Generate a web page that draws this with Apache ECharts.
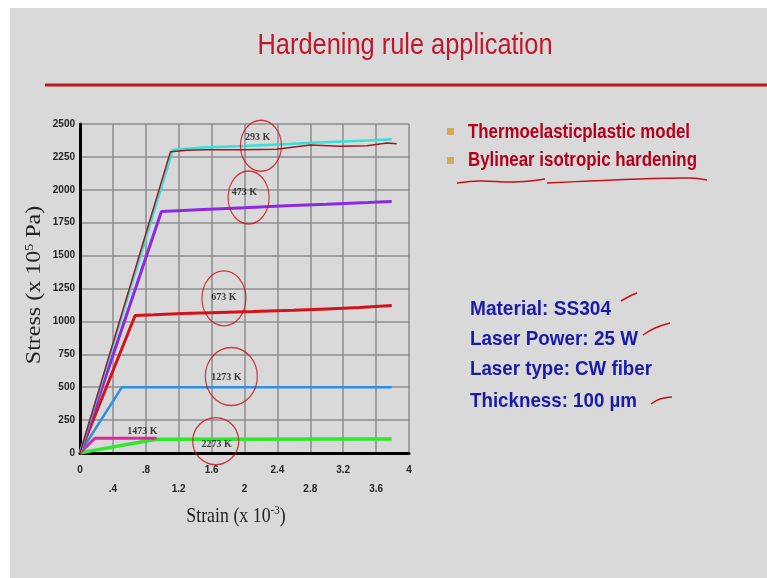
<!DOCTYPE html>
<html><head><meta charset="utf-8">
<script src="https://cdn.jsdelivr.net/npm/echarts@6/dist/echarts.min.js"></script>
<style>html,body{margin:0;padding:0;background:#d9d9d9}#c{width:767px;height:578px}</style>
</head><body><div id="c"></div>
<script>
// ---- data (strain x10^-3, stress x10^5 Pa) ----
const xTickLabels = ['0','.4','.8','1.2','1.6','2','2.4','2.8','3.2','3.6','4'];
const s293cyan = [[0,0],[1.13,2305],[1.5,2322],[2.0,2333],[2.4,2345],[2.9,2360],[3.5,2375],[3.79,2385]];
const s293dark = [[0,0],[1.10,2290],[1.3,2300],[1.54,2305],[1.96,2305],[2.39,2309],[2.8,2340],[3.16,2330],[3.49,2335],[3.73,2355],[3.85,2350]];
const s473 = [[0,0],[0.99,1835],[1.5,1850],[2.0,1863],[2.5,1878],[3.0,1890],[3.5,1903],[3.79,1912]];
const s673 = [[0,0],[0.67,1045],[0.9,1050],[1.25,1060],[1.7,1068],[2.1,1075],[2.6,1085],[3.0,1095],[3.4,1105],[3.79,1120]];
const s1273 = [[0,0],[0.51,500],[3.79,500]];
const s1473 = [[0,0],[0.18,112],[0.93,113]];
const s2273 = [[0,0],[0.15,18],[0.93,105],[3.79,106]];
const tempLabels = [['293 K',2.16,2400],['473 K',2.0,1980],['673 K',1.75,1180],['1273 K',1.78,571],['1473 K',0.76,165],['2273 K',1.66,63]];
const penCircles = [[2.2,2335,41,51],[2.05,1942,41,53],[1.75,1175,44,55],[1.84,581,52,58],[1.65,90,46,47]];
const bulletLines = ['Thermoelasticplastic model','Bylinear isotropic hardening'];
const infoLines = ['Material: SS304','Laser Power: 25 W','Laser type: CW fiber','Thickness: 100 µm'];

const cv = document.createElement('canvas').getContext('2d');
function widthOf(text, font){ cv.font = font; return cv.measureText(text).width; }
// horizontal squeeze of the slide image
function fitText(text, x, y, font, fill, targetW, align){
  const w = widthOf(text, font);
  return {type:'text', x:x, y:y, scaleX: targetW / w, originX:0, originY:0,
    style:{text, x:0, y:0, align:align||'left', verticalAlign:'middle', fill, font}};
}

const chart = echarts.init(document.getElementById('c'));
const ln = (data, color, w, z) => ({type:'line', data, symbol:'none', lineStyle:{color, width:w}, z:z||2, animation:false});
const bold = 'bold';
const titleFont = '29px "Liberation Sans", sans-serif';
const bulletFont = 'bold 20px "Liberation Sans", sans-serif';
const infoFont = 'bold 21px "Liberation Sans", sans-serif';
const bulletW = [222, 229];
const infoW = [141, 168, 182, 167];
const infoY = [309, 339, 369, 401];
const SQ = 0.85;

const graphics = [
  {type:'rect', shape:{x:0,y:0,width:767,height:8}, style:{fill:'#ffffff'}},
  {type:'rect', shape:{x:0,y:0,width:10,height:578}, style:{fill:'#ffffff'}},
  fitText('Hardening rule application', 405, 46, titleFont, '#c0182a', 295, 'center'),
  {type:'line', shape:{x1:45,y1:85,x2:767,y2:85}, style:{stroke:'#c2161e', lineWidth:3}},
  {type:'rect', shape:{x:447,y:128,width:7,height:7}, style:{fill:'#d2aa5c'}},
  {type:'rect', shape:{x:447,y:157,width:7,height:7}, style:{fill:'#d2aa5c'}},
  {type:'polyline', shape:{points:[[457,183],[480,181],[510,182],[530,181],[545,179]], smooth:0.4}, style:{stroke:'#c8101a', lineWidth:1.5, fill:null}},
  {type:'polyline', shape:{points:[[547,183],[590,181],[640,179],[690,178],[707,180]], smooth:0.4}, style:{stroke:'#c8101a', lineWidth:1.5, fill:null}},
  {type:'polyline', shape:{points:[[621,301],[630,296],[637,293]], smooth:0.4}, style:{stroke:'#c8101a', lineWidth:1.5, fill:null}},
  {type:'polyline', shape:{points:[[643,335],[655,328],[670,323]], smooth:0.4}, style:{stroke:'#c8101a', lineWidth:1.5, fill:null}},
  {type:'polyline', shape:{points:[[651,404],[660,399],[672,397]], smooth:0.4}, style:{stroke:'#c8101a', lineWidth:1.5, fill:null}},
  // axis titles (squeezed across their thickness like the source image)
  {type:'text', x:35, y:285, rotation:Math.PI/2, scaleY:SQ,
    style:{text:'Stress (x 10{sup|5} Pa)', x:0, y:0, align:'center', verticalAlign:'middle', fill:'#222',
      font:'24px "Liberation Serif", serif', rich:{sup:{fontSize:14, fontFamily:'Liberation Serif', fill:'#222', padding:[0,0,12,0]}}}},
  {type:'text', x:236, y:516, scaleX:SQ,
    style:{text:'Strain (x 10{sup|-3})', x:0, y:0, align:'center', verticalAlign:'middle', fill:'#222',
      font:'21px "Liberation Serif", serif', rich:{sup:{fontSize:13, fontFamily:'Liberation Serif', fill:'#222', padding:[0,0,10,0]}}}}
];
bulletLines.forEach((t,i)=>graphics.push(fitText(t, 468, [132,160][i], bulletFont, '#b3001b', bulletW[i])));
infoLines.forEach((t,i)=>graphics.push(fitText(t, 470, infoY[i], infoFont, '#1a1aa8', infoW[i])));

chart.setOption({
  backgroundColor:'#d9d9d9',
  animation:false,
  grid:{left:80, top:124, right:358, bottom:125},
  xAxis:{type:'value', min:0, max:4, interval:0.4,
    axisLine:{lineStyle:{color:'#000', width:3}}, axisTick:{show:false},
    splitLine:{lineStyle:{color:'#8c8c8c', width:1.5}},
    axisLabel:{margin:8, fontSize:10, fontWeight:bold, fontFamily:'Liberation Sans', color:'#222', lineHeight:19,
      formatter:(v)=>{const i=Math.round(v/0.4); return i%2 ? '\n'+xTickLabels[i] : xTickLabels[i];}}
  },
  yAxis:{type:'value', min:0, max:2500, interval:250,
    axisLine:{show:true, lineStyle:{color:'#000', width:3}}, axisTick:{show:false},
    splitLine:{lineStyle:{color:'#8c8c8c', width:1.5}},
    axisLabel:{margin:5, fontSize:10, fontWeight:bold, fontFamily:'Liberation Sans', color:'#222', formatter:(v)=>String(v)}
  },
  series:[
    ln(s2273,'#2ee82e',3.5),
    ln(s1473,'#e0259e',3),
    ln(s1273,'#2f8fe2',2.5),
    ln(s673,'#d3121c',3),
    ln(s473,'#8a2be2',3),
    ln(s293cyan,'#35e0d8',2.5),
    ln(s293dark,'#a8121a',1.5,3),
    {type:'scatter', data:tempLabels.map(d=>({value:[d[1],d[2]], name:d[0]})), symbolSize:0, z:4,
      label:{show:true, position:'inside', formatter:p=>p.name, fontFamily:'Liberation Serif', fontWeight:bold, fontSize:10, color:'#111'}},
    {type:'scatter', data:penCircles.map(d=>({value:[d[0],d[1]], symbolSize:[d[2],d[3]]})), symbol:'circle', z:5,
      itemStyle:{color:'rgba(0,0,0,0)', borderColor:'#c8101a', borderWidth:1.3}, silent:true}
  ],
  graphic:graphics
});
</script></body></html>
